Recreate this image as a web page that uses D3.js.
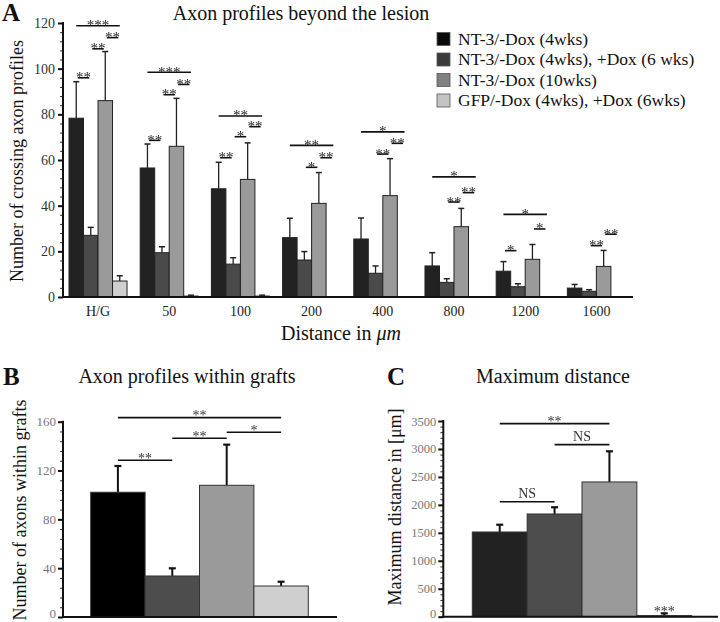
<!DOCTYPE html>
<html><head><meta charset="utf-8">
<script src="https://cdn.jsdelivr.net/npm/d3@7"></script>
<style>body{margin:0;background:#fff} svg{display:block} text{font-family:"Liberation Serif","Times New Roman",serif} .stars{filter:grayscale(1)}</style>
</head><body><svg id="c" width="720" height="622"></svg>
<script>
// ---------- DATA ----------
const categories = ["H/G","50","100","200","400","800","1200","1600"];
const seriesNames = ["NT-3/-Dox (4wks)","NT-3/-Dox (4wks), +Dox (6 wks)","NT-3/-Dox (10wks)","GFP/-Dox (4wks), +Dox (6wks)"];
const beyondS1 = [78.3,56.5,47.4,26,25.4,13.6,11.3,3.9];
const beyondS2 = [27,19.4,14.4,16.2,10.4,6.4,4.5,2.5];
const beyondS3 = [86,66,51.5,41,44.4,30.8,16.5,13.4];
const beyondS4 = [7,0.4,0.4,0,0,0,0,0];
const beyondErr1 = [16,10.5,11.6,8.5,9.2,5.8,4.2,1.6];
const beyondErr2 = [3.5,2.6,2.8,3.7,3.2,1.6,1.3,0.7];
const beyondErr3 = [21.5,21,16,13.5,16.2,8,6.5,7];
const beyondErr4 = [2.3,0.4,0.4,0,0,0,0,0];
const beyondTicks = [0,20,40,60,80,100,120];
// [category, from bar, to bar, y value, label]
const beyondSig = [
 ["H/G",0,1,96,"**"],["H/G",1,2,108.7,"**"],["H/G",0,3,118.8,"***"],["H/G",2,3,113.6,"**"],
 ["50",0,1,68.6,"**"],["50",1,2,88.6,"**"],["50",0,3,98.4,"***"],["50",2,3,93.1,"**"],
 ["100",0,1,61,"**"],["100",1,2,70.2,"*"],["100",0,3,79.3,"**"],["100",2,3,74.6,"**"],
 ["200",1,2,56.8,"*"],["200",0,3,66.4,"**"],["200",2,3,61,"**"],
 ["400",1,2,62.6,"**"],["400",0,3,72.3,"*"],["400",2,3,67.3,"**"],
 ["800",1,2,41.6,"**"],["800",0,3,52.6,"*"],["800",2,3,45.7,"**"],
 ["1200",0,1,20.3,"*"],["1200",0,3,36.2,"*"],["1200",2,3,29.8,"*"],
 ["1600",1,2,22.5,"**"],["1600",2,3,27.5,"**"]
];
const graftMean = [102.2,33.6,107.9,25.4];
const graftErr = [21.5,6.3,33.3,3.5];
const graftTicks = [0,40,80,120,160];
const graftSig = [[0,1,128.4,"**"],[1,2,146.4,"**"],[2,3,151.3,"*"],[0,3,163.3,"**"]];
const distMean = [1515,1837,2410,20];
const distErr = [130,120,548,40];
const distTicks = [0,500,1000,1500,2000,2500,3000,3500];
const distSig = [[0,1,2057,"NS"],[1,2,3077,"NS"],[0,2,3453,"**"]];
const distSingle = [[3,"***"]];

const colorsA = ["#222","#4a4a4a","#9a9a9a","#cfcfcf"];
const colorsLegend = ["#0a0a0a","#3a3a3a","#808080","#c4c4c4"];
const colorsB = ["#000","#4d4d4d","#9a9a9a","#cfcfcf"];
const colorsC = ["#222","#4d4d4d","#9a9a9a","#cfcfcf"];

const svg = d3.select("#c");

function minorAxis(g, scale, step, max, len){
  const vals = d3.range(0, max+1e-9, step);
  g.call(d3.axisLeft(scale).tickValues(vals).tickSize(len).tickFormat(""));
  g.select(".domain").remove();
  g.selectAll("line").attr("stroke","#333").attr("stroke-width",1);
}

// ---------- PANEL A ----------
const yA = d3.scaleLinear().domain([0,120]).range([297,23]);
const xA = d3.scaleBand().domain(categories).range([69,625.4]).paddingInner(0.185).paddingOuter(0);
const xInA = d3.scaleBand().domain(d3.range(4)).range([0,xA.bandwidth()]);
const sA = [beyondS1,beyondS2,beyondS3,beyondS4];
const eA = [beyondErr1,beyondErr2,beyondErr3,beyondErr4];
const gA = svg.append("g");
sA.forEach((ser,si)=>{
  categories.forEach((c,ci)=>{
    const v = ser[ci]; if(v<=0) return;
    const x0 = xA(c)+xInA(si), w = xInA.bandwidth();
    const e = eA[si][ci];
    const cx = x0+w/2;
    gA.append("line").attr("x1",cx).attr("x2",cx).attr("y1",yA(v)).attr("y2",yA(v+e)).attr("stroke","#222").attr("stroke-width",1.3);
    gA.append("line").attr("x1",cx-3).attr("x2",cx+3).attr("y1",yA(v+e)).attr("y2",yA(v+e)).attr("stroke","#222").attr("stroke-width",1.5);
    gA.append("rect").attr("x",x0).attr("y",yA(v)).attr("width",w).attr("height",yA(0)-yA(v))
      .attr("fill",colorsA[si]).attr("stroke","#222").attr("stroke-width",1);
  });
});
const starLayerA = gA.append("g").attr("class","stars");
beyondSig.forEach(([c,i,j,v,lab])=>{
  const inset = (j-i===1)?1.5:0;
  const x1 = xA(c)+xInA(i)+xInA.bandwidth()/2+inset, x2 = xA(c)+xInA(j)+xInA.bandwidth()/2-inset;
  gA.append("line").attr("x1",x1).attr("x2",x2).attr("y1",yA(v)).attr("y2",yA(v)).attr("stroke","#111").attr("stroke-width",1.6);
  starLayerA.append("text").attr("x",(x1+x2)/2).attr("y",yA(v)+4.5).attr("text-anchor","middle").attr("font-size",15).attr("fill","#222").text(lab);
});
// axes
const yAxisA = gA.append("g").attr("transform","translate(63,0)");
minorAxis(yAxisA.append("g"), yA, 4, 120, 3);
yAxisA.append("g").call(d3.axisLeft(yA).tickValues(beyondTicks).tickSize(5).tickPadding(3)).call(g=>{
  g.select(".domain").remove();
  g.selectAll("line").attr("stroke","#111").attr("stroke-width",2);
  g.selectAll("text").attr("font-size",14).attr("fill","#333").attr("font-family","Liberation Serif");
});
gA.append("line").attr("x1",63).attr("x2",63).attr("y1",yA(120)-1).attr("y2",yA(0)+1).attr("stroke","#111").attr("stroke-width",2);
gA.append("line").attr("x1",62).attr("x2",633).attr("y1",yA(0)).attr("y2",yA(0)).attr("stroke","#111").attr("stroke-width",2);
const xAxisA = gA.append("g").attr("transform",`translate(0,${yA(0)})`).call(d3.axisBottom(xA).tickSize(0).tickPadding(9));
xAxisA.select(".domain").remove();
xAxisA.selectAll("text").attr("font-size",14).attr("fill","#222").attr("font-family","Liberation Serif");
gA.append("text").attr("transform","translate(23,161) rotate(-90)").attr("text-anchor","middle").attr("font-size",18).attr("fill","#111").text("Number of crossing axon profiles");
const xt = gA.append("text").attr("x",341).attr("y",340).attr("text-anchor","middle").attr("font-size",20).attr("fill","#111");
xt.append("tspan").text("Distance in ");
xt.append("tspan").attr("font-style","italic").text("μm");
gA.append("text").attr("x",301).attr("y",20).attr("text-anchor","middle").attr("font-size",20).attr("fill","#111").text("Axon profiles beyond the lesion");
gA.append("text").attr("x",2).attr("y",21).attr("font-size",25).attr("font-weight","bold").attr("fill","#111").text("A");
// legend
const leg = gA.append("g");
seriesNames.forEach((n,i)=>{
  const y = 39 + i*20.5;
  leg.append("rect").attr("x",437).attr("y",y-6.5).attr("width",13).attr("height",13).attr("fill",colorsLegend[i]).attr("stroke","#555").attr("stroke-width",0.8);
  leg.append("text").attr("x",458).attr("y",y+5.5).attr("font-size",17.5).attr("fill","#111").text(n);
});

// ---------- generic small panel ----------
function smallPanel(opt){
  const g = svg.append("g");
  const y = d3.scaleLinear().domain([0,opt.max]).range([opt.y0,opt.y1]);
  const x = d3.scaleBand().domain(d3.range(4)).range([opt.b0,opt.b1]).padding(0);
  opt.mean.forEach((v,i)=>{
    const e = opt.err[i], cx = x(i)+x.bandwidth()/2;
    g.append("line").attr("x1",cx).attr("x2",cx).attr("y1",y(v)).attr("y2",y(v+e)).attr("stroke","#111").attr("stroke-width",2);
    g.append("line").attr("x1",cx-3.5).attr("x2",cx+3.5).attr("y1",y(v+e)).attr("y2",y(v+e)).attr("stroke","#111").attr("stroke-width",2.2);
    g.append("rect").attr("x",x(i)).attr("y",y(v)).attr("width",x.bandwidth()).attr("height",y(0)-y(v))
      .attr("fill",opt.colors[i]).attr("stroke","#333").attr("stroke-width",1);
  });
  const tl = g.append("g").attr("class","stars");
  opt.sig.forEach(([i,j,v,lab])=>{
    const x1 = x(i)+x.bandwidth()/2, x2 = x(j)+x.bandwidth()/2;
    g.append("line").attr("x1",x1).attr("x2",x2).attr("y1",y(v)).attr("y2",y(v)).attr("stroke","#111").attr("stroke-width",1.6);
    const isNS = lab==="NS";
    tl.append("text").attr("x",(x1+x2)/2).attr("y",isNS? y(v)-4 : y(v)+2.5).attr("text-anchor","middle")
      .attr("font-size",14).attr("fill","#333").text(lab);
  });
  (opt.single||[]).forEach(([i,lab])=>{
    const cx = x(i)+x.bandwidth()/2;
    tl.append("text").attr("x",cx).attr("y",y(opt.mean[i]+opt.err[i])+3).attr("text-anchor","middle").attr("font-size",14).attr("fill","#333").text(lab);
  });
  const ax = g.append("g").attr("transform",`translate(${opt.ax},0)`);
  minorAxis(ax.append("g"), y, opt.minor, opt.max, 3);
  ax.append("g").call(d3.axisLeft(y).tickValues(opt.ticks).tickSize(5).tickPadding(2).tickFormat(d3.format("d"))).call(a=>{
    a.select(".domain").remove();
    a.selectAll("line").attr("stroke","#111").attr("stroke-width",2);
    a.selectAll("text").attr("font-size",opt.tickFont).attr("fill","#777").attr("font-family","Liberation Serif")
      .attr("dy",d=>d===0?"0.05em":"0.32em");
  });
  g.append("line").attr("x1",opt.ax).attr("x2",opt.ax).attr("y1",y(opt.max)-1).attr("y2",y(0)+1).attr("stroke","#111").attr("stroke-width",2);
  g.append("line").attr("x1",opt.ax-1).attr("x2",opt.axEnd).attr("y1",y(0)).attr("y2",y(0)).attr("stroke","#111").attr("stroke-width",2);
  g.append("text").attr("transform",`translate(${opt.ylx},${opt.yly}) rotate(-90)`).attr("text-anchor","middle").attr("font-size",18).attr("fill","#111").text(opt.ylabel);
  g.append("text").attr("x",opt.tx).attr("y",383).attr("text-anchor","middle").attr("font-size",20).attr("fill","#111").text(opt.title);
  g.append("text").attr("x",opt.lx).attr("y",385).attr("font-size",25).attr("font-weight","bold").attr("fill","#111").text(opt.letter);
}

smallPanel({max:160,y0:617,y1:421.7,b0:90.7,b1:308.3,mean:graftMean,err:graftErr,colors:colorsB,sig:graftSig,
  ax:63,axEnd:337,minor:8,ticks:graftTicks,tickFont:13,ylx:26,yly:510,ylabel:"Number of axons within grafts",
  tx:187,title:"Axon profiles within grafts",lx:3,letter:"B"});
smallPanel({max:3500,y0:616.7,y1:421,b0:472.3,b1:691.7,mean:distMean,err:distErr,colors:colorsC,sig:distSig,single:distSingle,
  ax:443.3,axEnd:718,minor:100,ticks:distTicks,tickFont:12.5,ylx:401,yly:507,ylabel:"Maximum distance in [μm]",
  tx:553,title:"Maximum distance",lx:387,letter:"C"});
</script></body></html>
